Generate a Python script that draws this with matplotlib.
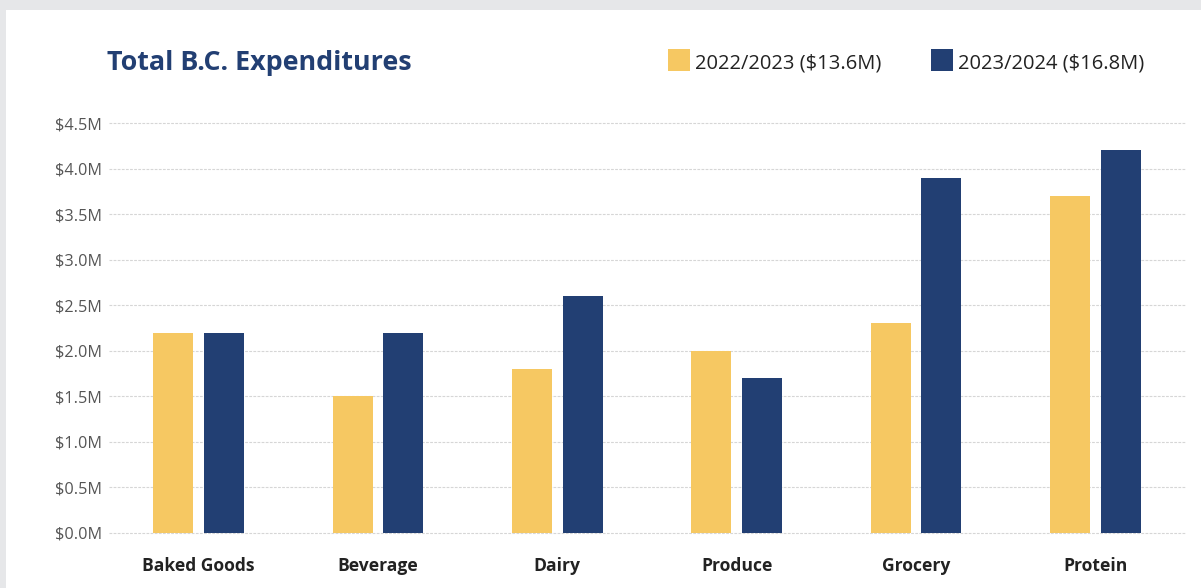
import matplotlib.pyplot as plt
from matplotlib.patches import Rectangle
import numpy as np

plt.rcParams["font.family"] = ["Open Sans", "DejaVu Sans"]

categorias = ["Baked Goods", "Beverage", "Dairy", "Produce", "Grocery", "Protein"]
ano_2223 = [2.2, 1.5, 1.8, 2.0, 2.3, 3.7]
ano_2324 = [2.2, 2.2, 2.6, 1.7, 3.9, 4.2]
legendas = ["2022/2023 ($13.6M)", "2023/2024 ($16.8M)"]
ticks_y = [0, 0.5, 1.0, 1.5, 2.0, 2.5, 3.0, 3.5, 4.0, 4.5]

amarelo = "#f6c862"
azul = "#223f73"

W, H = 1201, 588
fig = plt.figure(figsize=(W / 100, H / 100), dpi=100)
fig.patch.set_facecolor("#e6e7e9")

# painel branco (atrás de tudo)
fig.patches.append(Rectangle((6 / W, 0), 1, (H - 10) / H, transform=fig.transFigure,
                             facecolor="white", edgecolor="none", zorder=-10))

ax = fig.add_axes([109 / W, 55 / H, (1185 - 109) / W, (533 - 123) / H])
ax.set_facecolor("none")

x = np.arange(len(categorias))
larg = 0.223
desloc = 0.142
ax.bar(x - desloc, ano_2223, larg, color=amarelo, zorder=3)
ax.bar(x + desloc, ano_2324, larg, color=azul, zorder=3)

ax.set_xlim(-0.5, len(categorias) - 0.5)
ax.set_ylim(0, 4.5)
ax.set_yticks(ticks_y)
ax.set_yticklabels([f"${v:.1f}M" for v in ticks_y], color="#555555", fontsize=11.7)
ax.set_xticks(x)
ax.set_xticklabels(categorias, fontsize=12.6, fontweight="bold", color="#222222")
ax.tick_params(axis="y", length=0, pad=5)
ax.tick_params(axis="x", length=0, pad=17)

for v in ticks_y:
    ax.axhline(v, color="#d6d6d6", lw=0.8, ls=(0, (2.5, 1.2)), zorder=1, clip_on=False)

for spine in ax.spines.values():
    spine.set_visible(False)

# título
fig.text(107 / W, 1 - 63 / H, "Total B.C. Expenditures", fontsize=19.4, fontweight="bold",
         color="#223f73", ha="left", va="center")

# legenda manual
for cor, texto, xq in [(amarelo, legendas[0], 668), (azul, legendas[1], 931)]:
    fig.patches.append(Rectangle((xq / W, 1 - 71 / H), 22 / W, 22 / H,
                                 transform=fig.transFigure, facecolor=cor, edgecolor="none"))
    fig.text((xq + 27) / W, 1 - 63 / H, texto, fontsize=14.5, color="#222222",
             ha="left", va="center")

fig.savefig("out.png", dpi=100)
